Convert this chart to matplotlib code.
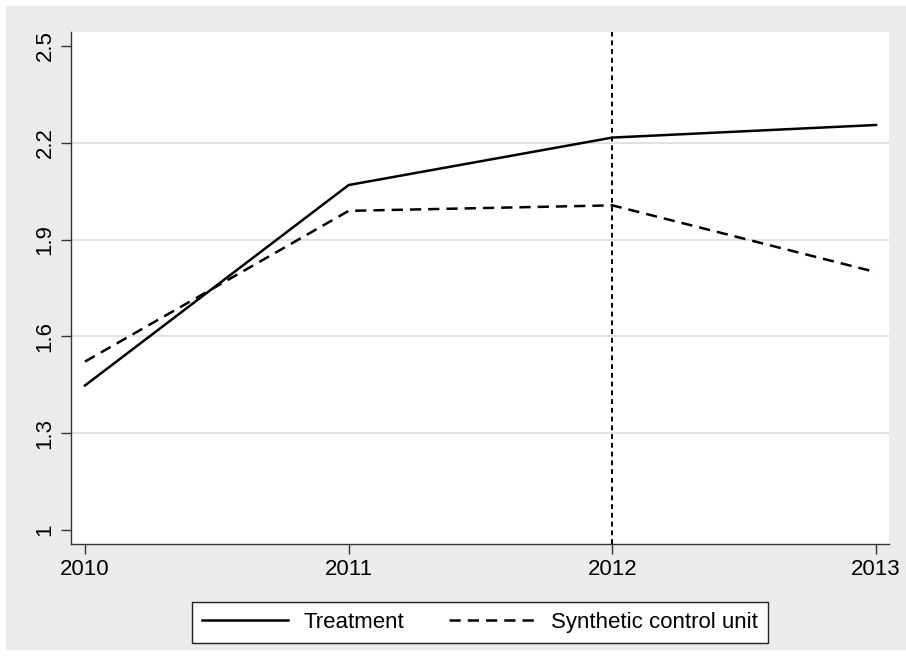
import matplotlib
matplotlib.use("Agg")
import matplotlib.pyplot as plt
from matplotlib.patches import Rectangle

years = [2010, 2011, 2012, 2013]
treatment = [1.448, 2.069, 2.216, 2.255]
synthetic = [1.522, 1.989, 2.006, 1.799]
yticks = [1.0, 1.3, 1.6, 1.9, 2.2, 2.5]
ytick_labels = ["1", "1.3", "1.6", "1.9", "2.2", "2.5"]
treat_year = 2012

plt.rcParams["font.family"] = ["Liberation Sans", "DejaVu Sans"]

fig = plt.figure(figsize=(9.06, 6.64), dpi=100, facecolor="white")
# Stata-style gray outer region, kept behind the axes
fig.patches.append(Rectangle((6 / 906, 14 / 664), 1 - 6 / 906, 1 - 20 / 664,
                             transform=fig.transFigure, facecolor="#ebebeb",
                             edgecolor="none", zorder=-10))

ax = fig.add_axes([71 / 906, 120 / 664, 818 / 906, 512 / 664])
ax.set_facecolor("white")

for y in yticks[1:-1]:
    ax.axhline(y, color="#dcdcdc", lw=1.2, zorder=1)

ax.plot(years, treatment, color="black", lw=1.8, label="Treatment", zorder=3)
ax.plot(years, synthetic, color="black", lw=1.8, dashes=(4.5, 2.8),
        label="Synthetic control unit", zorder=3)
ax.axvline(treat_year, color="black", lw=1.4, dashes=(2.5, 2), zorder=2)

ax.set_xlim(2009.947, 2013.049)
ax.set_ylim(0.957, 2.543)
ax.set_xticks(years)
ax.set_xticklabels([str(y) for y in years])
ax.set_yticks(yticks)
ax.set_yticklabels(ytick_labels, rotation=90, va="center")

for side in ["top", "right"]:
    ax.spines[side].set_visible(False)
for side in ["left", "bottom"]:
    ax.spines[side].set_color("#333333")
    ax.spines[side].set_linewidth(1.0)

ax.tick_params(axis="x", length=7, width=1, colors="#333333", labelsize=16,
               labelcolor="black", pad=4)
ax.tick_params(axis="y", length=7, width=1, colors="#333333", labelsize=16,
               labelcolor="black", pad=4)

leg = fig.legend(loc="upper center", bbox_to_anchor=(480 / 906, 1 - 591 / 664),
                 ncol=2, fontsize=16, handlelength=3.9, handletextpad=0.7,
                 columnspacing=2.0, borderpad=0.45, fancybox=False,
                 framealpha=1, edgecolor="#222222")
leg.get_frame().set_linewidth(1.0)

fig.savefig("out.png", dpi=100, facecolor=fig.get_facecolor())
